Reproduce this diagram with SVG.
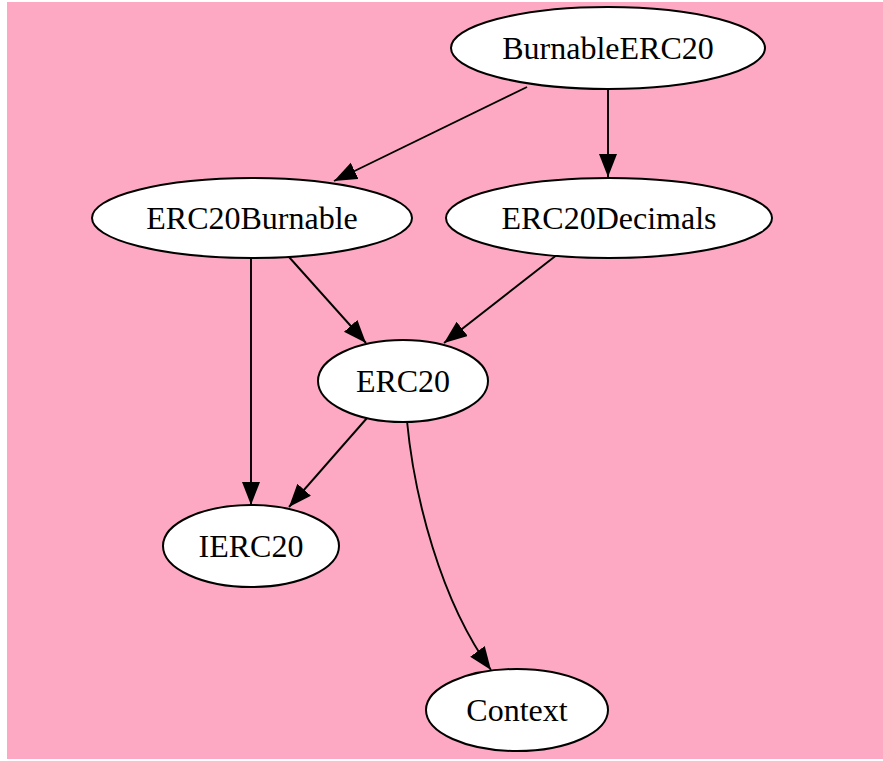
<svg xmlns="http://www.w3.org/2000/svg" width="883" height="761" viewBox="0 0 883 761">
<defs>
<marker id="arr" markerUnits="userSpaceOnUse" markerWidth="24" markerHeight="20" refX="23" refY="9" orient="auto">
<path d="M0,0 L23,9 L0,18 z" fill="#000"/>
</marker>
<style>
.node ellipse{fill:#fff;stroke:#000;stroke-width:2}
.node text{font-family:"Liberation Serif","Times New Roman",serif;font-size:32px;fill:#000;text-anchor:middle}
.edges path{fill:none;stroke:#000;stroke-width:1.9;marker-end:url(#arr)}
</style>
</defs>
<rect x="0" y="0" width="883" height="761" fill="#fff"/>
<rect x="7" y="2" width="876" height="757" fill="#fea9c4"/>
<g class="edges" id="edges">
<path d="M527,87 L334,181"/>
<path d="M608,90 L608,177"/>
<path d="M251,258 L251,505"/>
<path d="M289,257 L366,343"/>
<path d="M558,254 L444,343"/>
<path d="M367,418 L289,507"/>
<path d="M407,421 C414,495 440,600 491,670"/>
</g>
<g class="node" id="BurnableERC20"><ellipse cx="608" cy="48" rx="157" ry="41"/><text x="608" y="59">BurnableERC20</text></g>
<g class="node" id="ERC20Burnable"><ellipse cx="252" cy="218" rx="160" ry="40"/><text x="252" y="229">ERC20Burnable</text></g>
<g class="node" id="ERC20Decimals"><ellipse cx="609" cy="218" rx="163" ry="40"/><text x="609" y="229">ERC20Decimals</text></g>
<g class="node" id="ERC20"><ellipse cx="403" cy="381" rx="85" ry="41"/><text x="403" y="392">ERC20</text></g>
<g class="node" id="IERC20"><ellipse cx="251" cy="546" rx="88" ry="41"/><text x="251" y="557">IERC20</text></g>
<g class="node" id="Context"><ellipse cx="517" cy="710" rx="91" ry="41"/><text x="517" y="721">Context</text></g>
</svg>
